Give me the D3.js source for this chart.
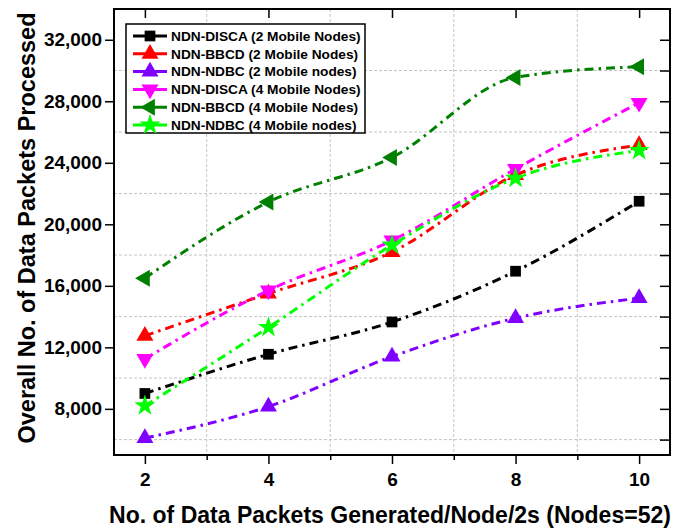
<!DOCTYPE html>
<html>
<head>
<meta charset="utf-8">
<script src="https://cdn.jsdelivr.net/npm/d3@7"></script>
<style>
  body { margin: 0; background: #fff; }
  text { font-family: Arial, "Liberation Sans", sans-serif; font-weight: bold; fill: #000; }
</style>
</head>
<body>
<svg id="chart" width="678" height="528"></svg>
<script>
// data
var xValues = [2, 4, 6, 8, 10];
var seriesNames = [
    "NDN-DISCA (2 Mobile Nodes)",
    "NDN-BBCD (2 Mobile Nodes)",
    "NDN-NDBC (2 Mobile nodes)",
    "NDN-DISCA (4 Mobile Nodes)",
    "NDN-BBCD (4 Mobile Nodes)",
    "NDN-NDBC (4 Mobile nodes)"
];
var disca2 = [9000, 11550, 13650, 16950, 21500];
var bbcd2  = [12750, 15500, 18200, 23200, 25150];
var ndbc2  = [6100, 8150, 11400, 13900, 15200];
var disca4 = [11250, 15700, 18950, 23600, 27900];
var bbcd4  = [16500, 21450, 24350, 29550, 30250];
var ndbc4  = [8200, 13300, 18650, 23000, 24800];
var yTickLabels = [8000, 12000, 16000, 20000, 24000, 28000, 32000];
var xTickLabels = [2, 4, 6, 8, 10];

var seriesValues = [disca2, bbcd2, ndbc2, disca4, bbcd4, ndbc4];
var colors = ["#000000", "#ff0000", "#8000ff", "#ff00ff", "#008000", "#00ff00"];
// marker: type + rotation
var markers = [
    { type: d3.symbolSquare, rot: 0, size: 115 },
    { type: d3.symbolTriangle, rot: 0, size: 125 },
    { type: d3.symbolTriangle, rot: 0, size: 125 },
    { type: d3.symbolTriangle, rot: 180, size: 125 },
    { type: d3.symbolTriangle, rot: -90, size: 125 },
    { type: d3.symbolStar, rot: 0, size: 140 }
];

var series = seriesNames.map(function (name, i) {
    return {
        name: name,
        color: colors[i],
        marker: markers[i],
        values: xValues.map(function (x, j) { return { x: x, y: seriesValues[i][j] }; })
    };
});

var svg = d3.select("#chart"),
    margin = { top: 9, right: 8, bottom: 73, left: 114 },
    width = +svg.attr("width") - margin.left - margin.right,
    height = +svg.attr("height") - margin.top - margin.bottom,
    g = svg.append("g").attr("transform", "translate(" + margin.left + "," + margin.top + ")");

var x = d3.scaleLinear().domain([1.5, 10.5]).range([0, width]);
var y = d3.scaleLinear().domain([5000, 34000]).range([height, 0]);

var fmt = d3.format(",");

// grid (dashed, at the in-between values)
var gridX = d3.range(3, 10, 2);
var gridY = d3.range(6000, 31000, 4000);
g.append("g").selectAll("line").data(gridX).enter().append("line")
    .attr("x1", function (d) { return x(d); }).attr("x2", function (d) { return x(d); })
    .attr("y1", 0).attr("y2", height)
    .attr("stroke", "#c4c4c4").attr("stroke-dasharray", "3,2");
g.append("g").selectAll("line").data(gridY).enter().append("line")
    .attr("y1", function (d) { return y(d); }).attr("y2", function (d) { return y(d); })
    .attr("x1", 0).attr("x2", width)
    .attr("stroke", "#c4c4c4").attr("stroke-dasharray", "3,2");

// bottom axis
var xAxis = g.append("g")
    .attr("transform", "translate(0," + height + ")")
    .call(d3.axisBottom(x).tickValues(xTickLabels).tickSize(9).tickPadding(9).tickFormat(d3.format("d")));
xAxis.select(".domain").remove();
xAxis.selectAll("text").style("font-size", "19px");
g.append("g")
    .attr("transform", "translate(0," + height + ")")
    .call(d3.axisBottom(x).tickValues(gridX).tickSize(5).tickFormat(""))
    .select(".domain").remove();

// left axis
var yAxis = g.append("g")
    .call(d3.axisLeft(y).tickValues(yTickLabels).tickSize(9).tickPadding(3).tickFormat(fmt));
yAxis.select(".domain").remove();
yAxis.selectAll("text").style("font-size", "19px");

// top + right mirrored ticks (inside)
g.append("g")
    .call(d3.axisTop(x).tickValues(xTickLabels).tickSize(-9).tickFormat(""))
    .select(".domain").remove();
g.append("g")
    .attr("transform", "translate(" + width + ",0)")
    .call(d3.axisRight(y).tickValues(d3.range(6000, 34000, 2000)).tickSize(-10).tickFormat(""))
    .select(".domain").remove();

g.selectAll(".tick line").attr("stroke", "#000").attr("stroke-width", 1.5);

// frame
g.append("rect")
    .attr("width", width).attr("height", height)
    .attr("fill", "none").attr("stroke", "#000").attr("stroke-width", 2);

// lines
var line = d3.line()
    .curve(d3.curveMonotoneX)
    .x(function (d) { return x(d.x); })
    .y(function (d) { return y(d.y); });

var sg = g.selectAll(".series").data(series).enter().append("g").attr("class", "series");

sg.append("path")
    .attr("fill", "none")
    .attr("stroke", function (d) { return d.color; })
    .attr("stroke-width", 3)
    .attr("stroke-dasharray", "9,5,2.5,5")
    .attr("d", function (d) { return line(d.values); });

sg.each(function (s) {
    d3.select(this).selectAll("path.pt").data(s.values).enter().append("path")
        .attr("class", "pt")
        .attr("fill", s.color)
        .attr("transform", function (d) {
            return "translate(" + x(d.x) + "," + y(d.y) + ") rotate(" + s.marker.rot + ")";
        })
        .attr("d", d3.symbol().type(s.marker.type).size(s.marker.size));
});

// legend
var legend = svg.append("g").attr("transform", "translate(126,24)");
legend.append("rect")
    .attr("width", 239).attr("height", 109)
    .attr("fill", "#fff").attr("stroke", "#000").attr("stroke-width", 1.5);
var row = legend.selectAll(".row").data(series).enter().append("g")
    .attr("transform", function (d, i) { return "translate(0," + (12 + i * 17.8) + ")"; });
row.append("line")
    .attr("x1", 7).attr("x2", 41)
    .attr("stroke", function (d) { return d.color; })
    .attr("stroke-width", 3);
row.append("path")
    .attr("fill", function (d) { return d.color; })
    .attr("transform", function (d) { return "translate(24,0) rotate(" + d.marker.rot + ")"; })
    .attr("d", function (d) { return d3.symbol().type(d.marker.type).size(d.marker.size)(); });
row.append("text")
    .attr("x", 45).attr("dy", "0.35em")
    .style("font-size", "13.7px")
    .text(function (d) { return d.name; });

// axis titles
svg.append("text")
    .attr("transform", "translate(35," + (margin.top + height / 2 - 4) + ") rotate(-90)")
    .attr("text-anchor", "middle")
    .style("font-size", "23.5px")
    .text("Overall No. of Data Packets Processed");
svg.append("text")
    .attr("x", 390).attr("y", 523)
    .attr("text-anchor", "middle")
    .style("font-size", "23px")
    .text("No. of Data Packets Generated/Node/2s (Nodes=52)");
</script>
</body>
</html>
